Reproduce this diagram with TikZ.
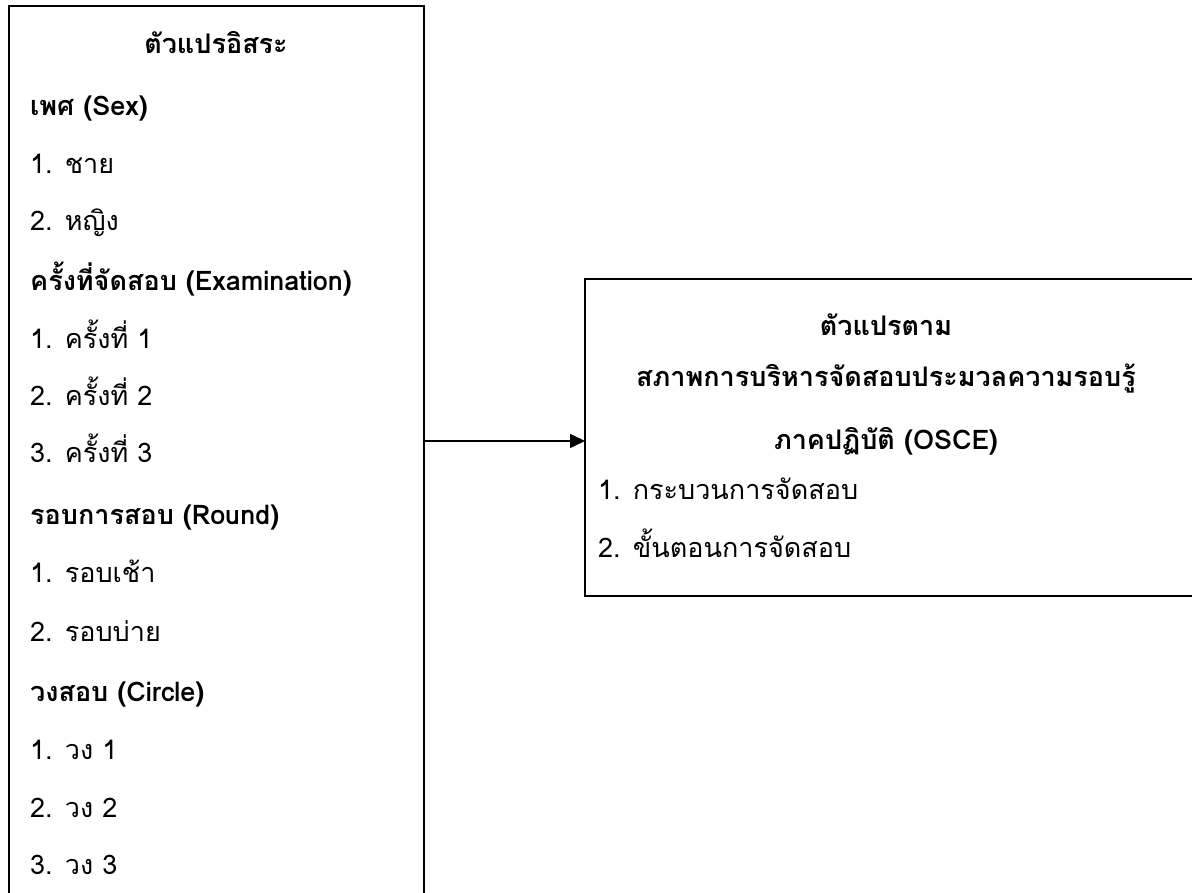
\documentclass[tikz,border=0pt]{standalone}
\usepackage{fontspec}
\newfontfamily\thai[Script=Thai]{Loma}
\usetikzlibrary{arrows.meta}
\begin{document}
\begin{tikzpicture}[x=1pt,y=-1pt,
  box/.style={draw,line width=1.4pt,inner sep=0pt,outer sep=0pt},
  txt/.style={anchor=base west,inner sep=0pt,font=\thai\fontsize{27}{30}\selectfont},
  hd/.style={anchor=base west,inner sep=0pt,font=\thai\bfseries\fontsize{27}{30}\selectfont},
  ctr/.style={anchor=base,inner sep=0pt,font=\thai\bfseries\fontsize{27}{30}\selectfont},
  arr/.style={line width=1.6pt,-{Triangle[length=15pt,width=14pt]}}]
\useasboundingbox (0,0) rectangle (1192,893);
\node[box,anchor=north west,minimum width=415pt,minimum height=910pt] (L) at (9,6) {};
\node[box,anchor=north west,minimum width=615pt,minimum height=317pt] (R) at (585,279) {};
% left box texts
\node[ctr] (l0) at (216,54) {ตัวแปรอิสระ};
\node[hd] (l1) at (30,116) {เพศ (Sex)};
\node[txt] (l2) at (30,174) {1. ชาย};
\node[txt] (l3) at (30,231) {2. หญิง};
\node[hd] (l4) at (30,291) {ครั้งที่จัดสอบ (Examination)};
\node[txt] (l5) at (30,349) {1. ครั้งที่ 1};
\node[txt] (l6) at (30,406) {2. ครั้งที่ 2};
\node[txt] (l7) at (30,462) {3. ครั้งที่ 3};
\node[hd] (l8) at (30,524) {รอบการสอบ (Round)};
\node[txt] (l9) at (30,582) {1. รอบเช้า};
\node[txt] (l10) at (30,641) {2. รอบบ่าย};
\node[hd] (l11) at (30,701) {วงสอบ (Circle)};
\node[txt] (l12) at (30,759) {1. วง 1};
\node[txt] (l13) at (30,817) {2. วง 2};
\node[txt] (l14) at (30,874) {3. วง 3};
% right box texts
\node[ctr] (r0) at (886,336) {ตัวแปรตาม};
\node[ctr] (r1) at (886,387) {สภาพการบริหารจัดสอบประมวลความรอบรู้};
\node[ctr] (r2) at (886,449) {ภาคปฏิบัติ (OSCE)};
\node[txt] (r3) at (598,499) {1. กระบวนการจัดสอบ};
\node[txt] (r4) at (598,557) {2. ขั้นตอนการจัดสอบ};
% arrow
\coordinate (a) at (424,441);
\draw[arr] (a) -- (a -| R.west);
\end{tikzpicture}
\end{document}
